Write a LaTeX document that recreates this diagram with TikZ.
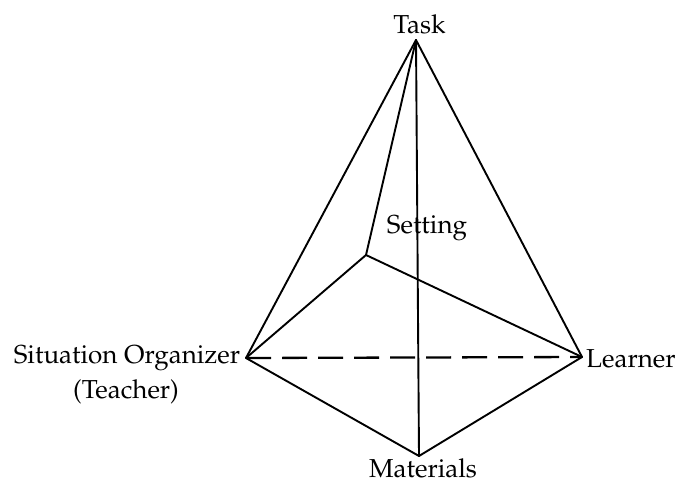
\documentclass[tikz,border=0pt]{standalone}
\usepackage[T1]{fontenc}
\usepackage{mathpazo}
\begin{document}
\begin{tikzpicture}[x=1pt,y=-1pt,
  edge/.style={line width=1.9pt, line join=round, line cap=round},
  dashedge/.style={line width=2.3pt, dash pattern=on 25pt off 11pt},
  lbl/.style={font=\fontsize{26}{30}\selectfont, inner sep=0pt}]
\useasboundingbox (0,0) rectangle (676,485);
\coordinate (T) at (416,40);
\coordinate (S) at (366,255);
\coordinate (O) at (246,358);
\coordinate (L) at (582,357);
\coordinate (M) at (419,456);
% edges
\draw[edge] (T) -- (O);
\draw[edge] (T) -- (S);
\draw[edge] (T) -- (M);
\draw[edge] (T) -- (L);
\draw[edge] (S) -- (O);
\draw[edge] (S) -- (L);
\draw[edge] (O) -- (M);
\draw[edge] (M) -- (L);
\draw[dashedge] (O) -- (L);
% labels
\node[lbl, anchor=base] (task) at (419.5,33) {Task};
\node[lbl, anchor=base] (setting) at (427,233) {Setting};
\node[lbl, anchor=base] (org) at (127,363) {Situation Organizer};
\node[lbl, anchor=base] (teacher) at (126,398) {(Teacher)};
\node[lbl, anchor=base west] (learner) at (586,367) {Learner};
\node[lbl, anchor=base] (materials) at (423,477) {Materials};
\end{tikzpicture}
\end{document}
